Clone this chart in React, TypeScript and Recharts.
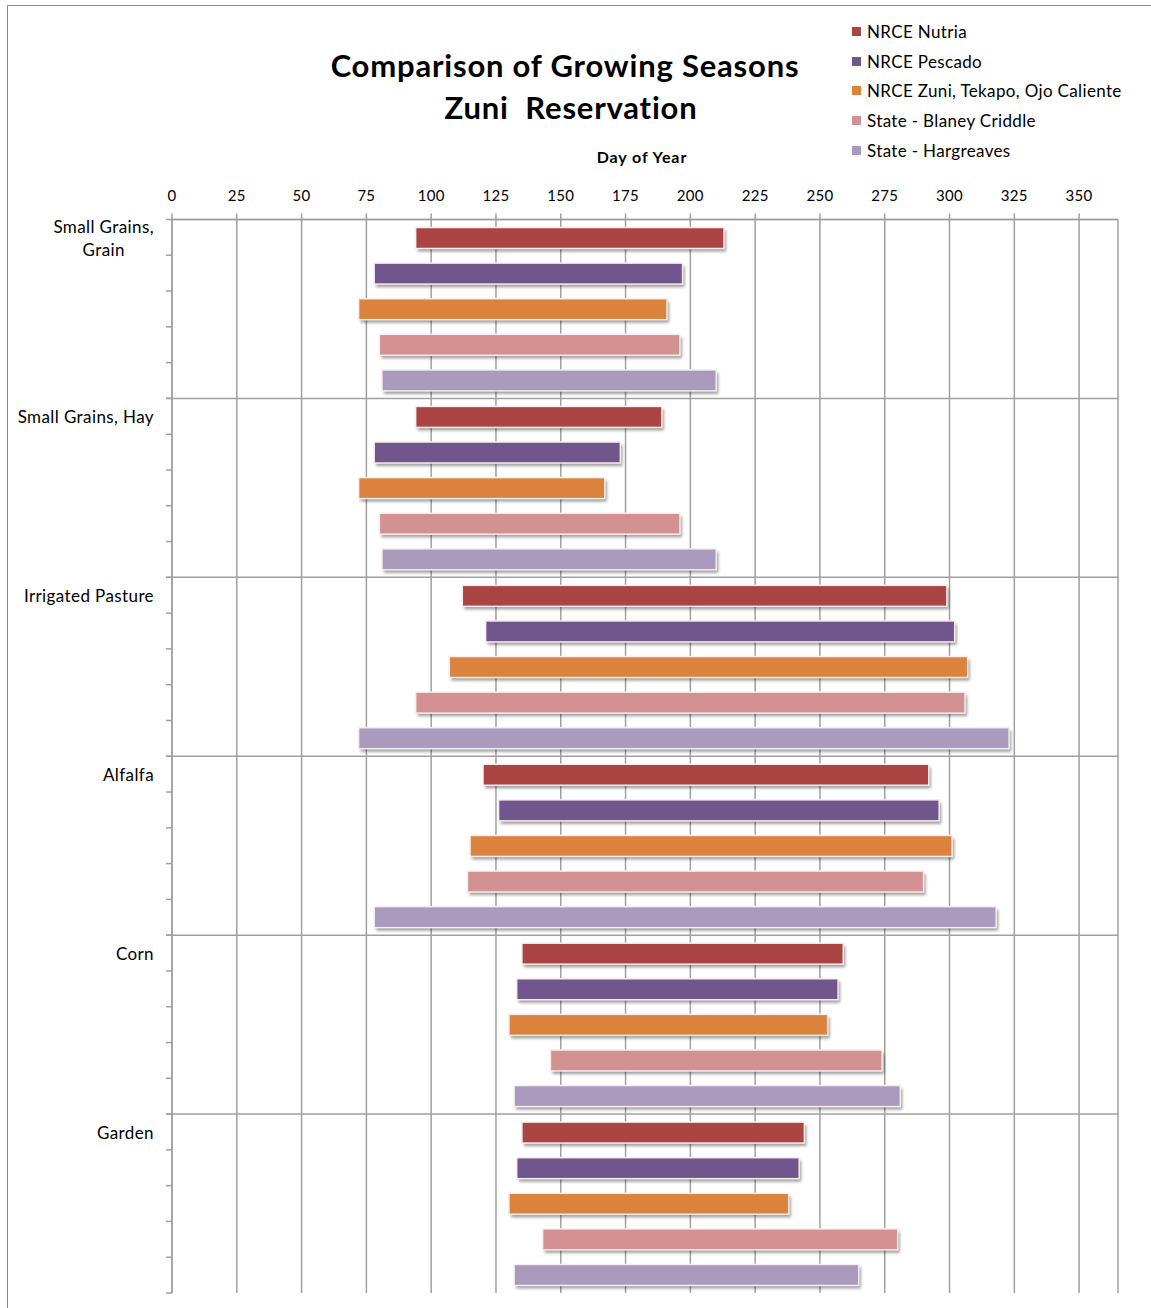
import React from 'react';
import { BarChart, Bar, XAxis, YAxis, CartesianGrid, Legend } from 'recharts';

// ---------- data ----------
const categories = ['Small Grains, Grain', 'Small Grains, Hay', 'Irrigated Pasture', 'Alfalfa', 'Corn', 'Garden'];
const seriesNames = [
  'NRCE Nutria',
  'NRCE Pescado',
  'NRCE Zuni, Tekapo, Ojo Caliente',
  'State - Blaney Criddle',
  'State - Hargreaves',
];
const seriesColors = ['#AA4544', '#71568E', '#DB833C', '#D49192', '#A99ABE'];

const nutriaStart = [94, 94, 112, 120, 135, 135];
const nutriaEnd = [213, 189, 299, 292, 259, 244];
const pescadoStart = [78, 78, 121, 126, 133, 133];
const pescadoEnd = [197, 173, 302, 296, 257, 242];
const zuniStart = [72, 72, 107, 115, 130, 130];
const zuniEnd = [191, 167, 307, 301, 253, 238];
const blaneyStart = [80, 80, 94, 114, 146, 143];
const blaneyEnd = [196, 196, 306, 290, 274, 280];
const hargStart = [81, 81, 72, 78, 132, 132];
const hargEnd = [210, 210, 323, 318, 281, 265];

const xTicks = [0, 25, 50, 75, 100, 125, 150, 175, 200, 225, 250, 275, 300, 325, 350];
const xDomain = [0, 365];

const starts = [nutriaStart, pescadoStart, zuniStart, blaneyStart, hargStart];
const ends = [nutriaEnd, pescadoEnd, zuniEnd, blaneyEnd, hargEnd];

const data = categories.map((category, i) => {
  const row: any = { category };
  starts.forEach((s, k) => {
    row['s' + k] = [s[i], ends[k][i]];
  });
  return row;
});

// ---------- layout ----------
const W = 1151;
const H = 1308;
const PLOT_LEFT = 172;
const PLOT_TOP = 219.5;
const PLOT_RIGHT = 1118;
const PLOT_BOTTOM = 1293;
const X_AXIS_H = 30;
const Y_AXIS_W = 160;
const BAND = (PLOT_BOTTOM - PLOT_TOP) / categories.length;
const GRID = '#a0a0a0';
const FONT = 'Lato, "Open Sans", sans-serif';
const CAT_FS = 17;
const CAT_LS = 0.4;

let measureCtx: CanvasRenderingContext2D | null = null;
const measure = (txt: string, font: string) => {
  if (!measureCtx) measureCtx = document.createElement('canvas').getContext('2d');
  if (!measureCtx) return txt.length * 8;
  measureCtx.font = font;
  return measureCtx.measureText(txt).width + txt.length * CAT_LS;
};

const wrapLabel = (s: string) => {
  if (s.length > 18 && s.indexOf(', ') > 0) {
    const i = s.indexOf(', ');
    return [s.slice(0, i + 1), s.slice(i + 2)];
  }
  return [s];
};

const CatTick = (props: any) => {
  const { y, payload } = props;
  const top = y - BAND / 2;
  const lines = wrapLabel(String(payload.value));
  const tickMarks = [0, 1, 2, 3, 4, 5].map((k) => (
    <line
      key={k}
      x1={PLOT_LEFT - 6}
      x2={PLOT_LEFT}
      y1={top + (k * BAND) / 5}
      y2={top + (k * BAND) / 5}
      stroke={GRID}
      strokeWidth={1.5}
    />
  ));
  const labelRight = 154;
  let label;
  if (lines.length === 1) {
    label = (
      <text x={labelRight} y={top + 18} textAnchor="end" dominantBaseline="central" fontSize={CAT_FS} letterSpacing={CAT_LS} fill="#000" fontFamily={FONT}>
        {lines[0]}
      </text>
    );
  } else {
    const maxW = Math.max(...lines.map((l) => measure(l, `${CAT_FS}px Lato`)));
    const cx = labelRight - maxW / 2;
    label = (
      <g>
        {lines.map((l, i) => (
          <text key={i} x={cx} y={top + 6.5 + i * 23} textAnchor="middle" dominantBaseline="central" fontSize={CAT_FS} letterSpacing={CAT_LS} fill="#000" fontFamily={FONT}>
            {l}
          </text>
        ))}
      </g>
    );
  }
  return (
    <g>
      {tickMarks}
      {label}
    </g>
  );
};

const BarShape = (props: any) => {
  const { x, y, width, height, fill } = props;
  if (width == null || height == null) return null;
  const w = Math.abs(width);
  const x0 = width < 0 ? x + width : x;
  return (
    <g>
      <defs>
        <filter id="barShadowBlur" x="-10%" y="-50%" width="120%" height="200%">
          <feGaussianBlur stdDeviation="1.6" />
        </filter>
      </defs>
      <rect x={x0 + 2} y={y + 3} width={w} height={height} fill="#000" opacity={0.38} filter="url(#barShadowBlur)" />
      <rect x={x0} y={y} width={w} height={height} fill={fill} stroke="#f6eeee" strokeWidth={1.5} />
    </g>
  );
};

const LegendContent = (props: any) => {
  const payload = props.payload || [];
  return (
    <div style={{ fontFamily: FONT }}>
      {payload.map((p: any, i: number) => (
        <div key={i} style={{ display: 'flex', alignItems: 'center', height: 29.75 }}>
          <span style={{ display: 'inline-block', width: 9, height: 9, background: p.color, marginRight: 6 }} />
          <span style={{ fontSize: 17, color: '#000', letterSpacing: 0.35, whiteSpace: 'nowrap' }}>{p.value}</span>
        </div>
      ))}
    </div>
  );
};

export default function App() {
  return (
    <div style={{ position: 'relative', width: W, height: H, overflow: 'hidden', background: '#fff', fontFamily: FONT }}>
      <style>{`body{margin:0;}`}</style>
      <div
        style={{
          position: 'absolute',
          left: 7,
          top: 5,
          width: 1300,
          height: 1400,
          border: '1px solid #8a8a8a',
          pointerEvents: 'none',
        }}
      />
      <div style={{ position: 'absolute', left: 0, top: 0 }}>
        <BarChart
          layout="vertical"
          width={W}
          height={H}
          data={data}
          margin={{
            top: PLOT_TOP - X_AXIS_H,
            right: W - PLOT_RIGHT,
            bottom: H - PLOT_BOTTOM,
            left: PLOT_LEFT - Y_AXIS_W,
          }}
          barSize={21}
          barGap={14.6}
        >
          <CartesianGrid
            stroke={GRID}
            strokeWidth={1.5}
            horizontalCoordinatesGenerator={({ offset }: any) =>
              [0, 1, 2, 3, 4, 5].map((i) => offset.top + (i * offset.height) / categories.length)
            }
          />
          <XAxis
            type="number"
            orientation="top"
            domain={xDomain}
            ticks={xTicks}
            interval={0}
            height={X_AXIS_H}
            tickSize={6}
            tickMargin={13}
            axisLine={{ stroke: GRID, strokeWidth: 1.5 }}
            tickLine={{ stroke: GRID, strokeWidth: 1.5 }}
            tick={{ fill: '#000', fontSize: 15, fontFamily: FONT, letterSpacing: 0.3 }}
            label={{
              value: 'Day of Year',
              position: 'top',
              offset: 27,
              fill: '#000',
              fontSize: 16,
              fontWeight: 'bold',
              fontFamily: FONT,
              letterSpacing: 0.9,
              dx: -3,
            }}
          />
          <YAxis
            type="category"
            dataKey="category"
            width={Y_AXIS_W}
            interval={0}
            axisLine={{ stroke: GRID, strokeWidth: 1.5 }}
            tickLine={false}
            tick={<CatTick />}
          />
          <Legend
            layout="vertical"
            align="center"
            verticalAlign="middle"
            content={<LegendContent />}
            wrapperStyle={{ position: 'absolute', left: 852, top: 16.5, width: 295, height: 150 }}
          />
          {seriesNames.map((name, k) => (
            <Bar
              key={name}
              dataKey={'s' + k}
              name={name}
              fill={seriesColors[k]}
              shape={<BarShape />}
              isAnimationActive={false}
            />
          ))}
        </BarChart>
      </div>
      <div
        style={{
          position: 'absolute',
          left: 265,
          width: 600,
          top: 44,
          textAlign: 'center',
          fontSize: 31,
          fontWeight: 'bold',
          letterSpacing: 0.8,
          lineHeight: '42px',
          color: '#000',
          whiteSpace: 'pre',
        }}
      >
        <div>Comparison of Growing Seasons</div>
        <div style={{ position: 'relative', left: 6 }}>{'Zuni  Reservation'}</div>
      </div>
    </div>
  );
}
